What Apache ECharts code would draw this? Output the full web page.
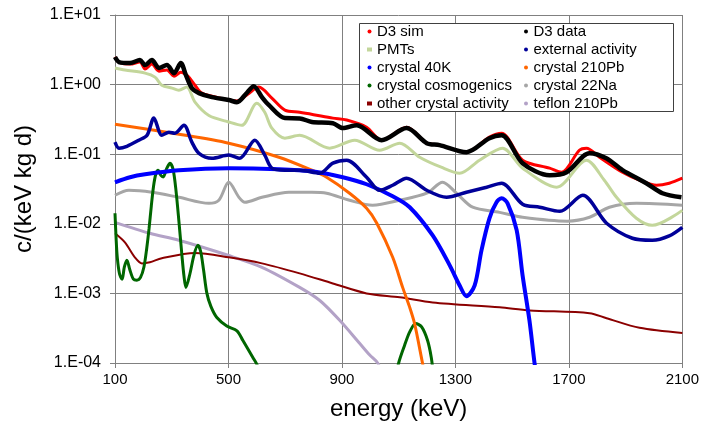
<!DOCTYPE html>
<html>
<head>
<meta charset="utf-8">
<script src="https://cdn.jsdelivr.net/npm/echarts@6/dist/echarts.min.js"></script>
<style>
html,body{margin:0;padding:0;background:#fff;}
#chart{width:702px;height:427px;}
</style>
</head>
<body>
<div id="chart"></div>
<script>
// ---- tick labels ----
const yTickLabels = ['1.E-04','1.E-03','1.E-02','1.E-01','1.E+00','1.E+01'];
const xTickLabels = ['100','500','900','1300','1700','2100'];

// ---- series data (energy in keV, rate in c/(keV kg d)) ----
const d3SimE = [100,114,153,188,206,230,255,283,308,332,357,382,406,442,501,530,568,607,653,699,751,800,868,917,987,1040,1128,1199,1244,1339,1420,1463,1537,1632,1674,1737,1762,1808,1889,1949,2009,2054,2100];
const d3SimV = [2.49,2.11,1.97,2.11,1.67,1.97,1.56,1.62,1.32,1.51,1.32,0.98,0.755,0.68,0.60,0.58,0.73,0.92,0.64,0.43,0.40,0.37,0.33,0.31,0.244,0.159,0.244,0.144,0.135,0.107,0.176,0.20,0.082,0.063,0.055,0.114,0.122,0.0905,0.055,0.0423,0.0358,0.0383,0.0452];

const d3DataE = [100,114,153,188,206,230,255,283,308,332,350,371,396,442,501,530,561,589,618,642,699,751,794,868,903,952,1040,1128,1199,1244,1339,1420,1463,1537,1632,1692,1773,1832,1889,1973,2030,2097];
const d3DataV = [2.49,2.11,2.04,2.25,1.91,2.25,1.73,1.91,1.46,2.04,1.37,0.89,0.755,0.66,0.60,0.56,0.73,0.95,0.66,0.51,0.33,0.327,0.29,0.279,0.237,0.261,0.159,0.237,0.144,0.135,0.107,0.170,0.187,0.0743,0.0499,0.055,0.103,0.0874,0.0589,0.0383,0.0275,0.024];

const pmtE = [100,135,206,241,265,301,325,353,382,431,501,547,600,628,653,699,751,857,945,1033,1104,1174,1250,1315,1385,1466,1537,1657,1762,1825,1868,1938,1994,2100];
const pmtV = [1.73,1.62,1.46,1.28,0.98,0.89,0.83,0.92,0.56,0.36,0.29,0.26,0.54,0.40,0.237,0.170,0.187,0.122,0.159,0.114,0.144,0.0905,0.065,0.0533,0.082,0.122,0.063,0.0335,0.082,0.0423,0.024,0.012,0.0095,0.0156];

const extE = [100,114,142,184,213,237,265,290,311,343,371,396,442,501,540,593,628,653,699,751,822,868,917,987,1033,1079,1128,1199,1269,1339,1410,1463,1537,1597,1668,1749,1833,1924,1994,2054,2100];
const extV = [0.149,0.122,0.130,0.159,0.187,0.33,0.187,0.207,0.20,0.26,0.149,0.103,0.0875,0.097,0.0875,0.159,0.097,0.063,0.0589,0.0589,0.0533,0.0743,0.082,0.0467,0.0303,0.0358,0.0452,0.0303,0.024,0.0284,0.0335,0.0383,0.0191,0.0173,0.0151,0.0257,0.0102,0.0062,0.0058,0.0067,0.0089];

const k40E = [100,153,206,325,501,678,794,903,987,1079,1139,1220,1280,1315,1339,1368,1392,1420,1445,1463,1484,1516,1537,1561,1579,1590];
const k40V = [0.0395,0.0467,0.0515,0.0589,0.063,0.061,0.0569,0.0467,0.037,0.0249,0.0173,0.0068,0.00253,0.0013,0.00091,0.0013,0.00416,0.012,0.0204,0.0233,0.0197,0.0081,0.0018,0.00041,0.0001,0.00005];

const pb210E = [100,325,501,678,794,846,927,987,1023,1079,1114,1139,1156,1184,1195];
const pb210V = [0.27,0.194,0.144,0.0905,0.0589,0.0467,0.0275,0.0167,0.0102,0.0033,0.00122,0.00063,0.00037,0.0001,0.00006];

const na22E = [100,149,230,325,431,466,501,537,558,618,713,794,846,927,1008,1104,1199,1255,1304,1361,1456,1537,1695,1773,1843,1938,2100];
const na22V = [0.0257,0.0303,0.0284,0.024,0.0197,0.0218,0.0395,0.024,0.0204,0.024,0.0284,0.0284,0.0275,0.0218,0.0185,0.0218,0.0275,0.0395,0.0275,0.0173,0.0146,0.0124,0.0109,0.0124,0.0173,0.0197,0.0185];

const cosmoE = [100,104,108,116,125,133,142,152,165,177,190,202,212,220,228,236,244,252,261,270,282,294,305,315,325,336,343,350,364,378,392,402,412,424,438,459,494,530,551,586,603,612,850,1090,1100,1121,1139,1160,1181,1202,1215,1222];
const cosmoV = [0.0142,0.006,0.0033,0.0019,0.0016,0.0024,0.003,0.0022,0.0016,0.00155,0.0017,0.0024,0.0045,0.0085,0.018,0.035,0.052,0.059,0.05,0.047,0.062,0.074,0.06,0.03,0.0112,0.0035,0.0018,0.00122,0.0019,0.0035,0.0049,0.004,0.0022,0.001,0.00065,0.00045,0.00034,0.00029,0.00021,0.00012,0.00009,0.00006,null,0.00006,0.0001,0.00018,0.00028,0.00037,0.00033,0.00021,0.00012,0.00007];

const otherE = [100,135,170,195,223,265,382,501,618,751,868,987,1104,1220,1456,1561,1773,1833,1949,2100];
const otherV = [0.0073,0.0054,0.0033,0.0027,0.0028,0.0032,0.0038,0.0033,0.0027,0.00194,0.00139,0.001,0.00088,0.00074,0.00063,0.00057,0.00052,0.00044,0.00032,0.00027];

const teflonE = [100,223,325,501,618,751,822,892,963,998,1026,1040];
const teflonV = [0.0105,0.0073,0.0058,0.0035,0.00237,0.00122,0.00079,0.00041,0.00019,0.00013,0.0001,0.00007];

const legendCol1 = ['D3 sim','PMTs','crystal 40K','crystal cosmogenics','other crystal activity'];
const legendCol2 = ['D3 data','external activity','crystal 210Pb','crystal 22Na','teflon 210Pb'];

function pairs(E, V) {
  return E.map((e, i) => [e, V[i] === null ? '-' : V[i]]);
}

function mkSeries(name, E, V, color, width, z) {
  return {
    name: name, type: 'line', data: pairs(E, V),
    showSymbol: false, smooth: 0.3, connectNulls: false,
    lineStyle: { color: color, width: width },
    itemStyle: { color: color },
    z: z, clip: true, animation: false
  };
}

const font = '"Liberation Sans", Arial, sans-serif';

const chart = echarts.init(document.getElementById('chart'), null, { renderer: 'canvas' });
chart.setOption({
  animation: false,
  backgroundColor: '#ffffff',
  grid: { left: 115, right: 19, top: 15, bottom: 64, containLabel: false },
  xAxis: {
    type: 'value', min: 100, max: 2100, interval: 400,
    name: 'energy (keV)', nameLocation: 'middle', nameGap: 34,
    nameTextStyle: { fontFamily: font, fontSize: 24, color: '#000' },
    axisLine: { show: true, lineStyle: { color: '#808080', width: 1 } },
    axisTick: { show: true, inside: false, length: 5, lineStyle: { color: '#808080' } },
    axisLabel: {
      margin: 9, fontFamily: font, fontSize: 15, color: '#000',
      formatter: function (v) {
        const i = Math.round((v - 100) / 400);
        return xTickLabels[i] || '';
      }
    },
    splitLine: { show: true, lineStyle: { color: '#808080', width: 1 } }
  },
  yAxis: {
    type: 'log', logBase: 10, min: 0.0001, max: 10,
    name: 'c/(keV kg d)', nameLocation: 'middle', nameGap: 79, nameRotate: 90,
    nameTextStyle: { fontFamily: font, fontSize: 24, color: '#000' },
    axisLine: { show: true, lineStyle: { color: '#808080', width: 1 } },
    axisTick: { show: true, inside: false, length: 5, lineStyle: { color: '#808080' } },
    axisLabel: {
      margin: 14, fontFamily: font, fontSize: 16, color: '#000',
      formatter: function (v) {
        const ex = Math.round(Math.log10(v));
        return yTickLabels[ex + 4] || '';
      }
    },
    splitLine: { show: true, lineStyle: { color: '#808080', width: 1 } },
    minorTick: { show: false }, minorSplitLine: { show: false }
  },
  graphic: [{
    type: 'rect', z: 50, silent: true,
    shape: { x: 359.5, y: 23.5, width: 314, height: 88 },
    style: { fill: '#ffffff', stroke: '#404040', lineWidth: 1 }
  }],
  legend: [
    {
      data: legendCol1.map(n => ({ name: n, icon: (n === 'PMTs' || n === 'other crystal activity') ? 'rect' : 'circle' })),
      orient: 'vertical', left: 367, top: 24, padding: 0, itemGap: 3,
      itemWidth: 5, itemHeight: 4, z: 60, selectedMode: false,
      textStyle: { fontFamily: font, fontSize: 15, color: '#000', lineHeight: 15 }
    },
    {
      data: legendCol2.map(n => ({ name: n, icon: 'circle' })),
      orient: 'vertical', left: 524, top: 24, padding: 0, itemGap: 3,
      itemWidth: 5, itemHeight: 4, z: 60, selectedMode: false,
      textStyle: { fontFamily: font, fontSize: 15, color: '#000', lineHeight: 15 }
    }
  ],
  series: [
    mkSeries('teflon 210Pb', teflonE, teflonV, '#B3A2C7', 3, 2),
    mkSeries('other crystal activity', otherE, otherV, '#8B0000', 2, 3),
    mkSeries('crystal 22Na', na22E, na22V, '#A6A6A6', 3, 4),
    mkSeries('crystal cosmogenics', cosmoE, cosmoV, '#006600', 3, 5),
    mkSeries('crystal 210Pb', pb210E, pb210V, '#FF6600', 3, 6),
    mkSeries('crystal 40K', k40E, k40V, '#0000FF', 4, 7),
    mkSeries('external activity', extE, extV, '#000099', 3.5, 8),
    mkSeries('PMTs', pmtE, pmtV, '#C3D69B', 3, 9),
    mkSeries('D3 sim', d3SimE, d3SimV, '#FF0000', 3, 10),
    mkSeries('D3 data', d3DataE, d3DataV, '#000000', 4.5, 11)
  ]
});
</script>
</body>
</html>
